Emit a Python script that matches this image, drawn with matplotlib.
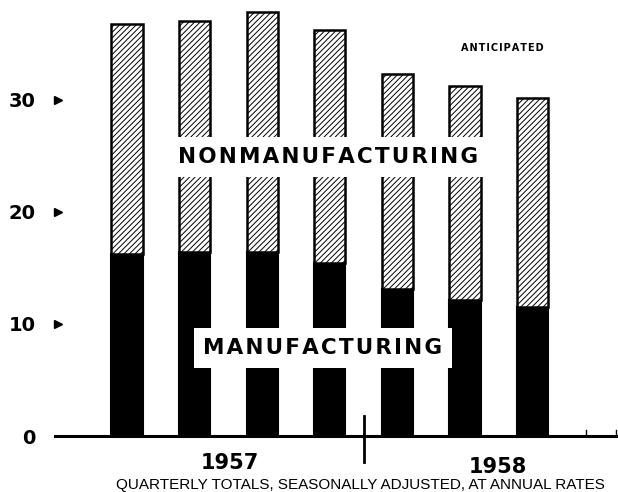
import matplotlib
matplotlib.use("Agg")
import matplotlib.pyplot as plt

quarters = ["1957 I", "1957 II", "1957 III", "1957 IV", "1958 I", "1958 II", "1958 III"]
total = [36.8, 37.0, 37.8, 36.2, 32.3, 31.2, 30.2]
manufacturing = [16.2, 16.4, 16.4, 15.4, 13.1, 12.1, 11.5]
nonmanufacturing = [t - m for t, m in zip(total, manufacturing)]
yticks = [0, 10, 20, 30]

plt.rcParams['hatch.linewidth'] = 0.7
plt.rcParams['font.family'] = ['DejaVu Sans']

fig = plt.figure(figsize=(6.18, 4.92), dpi=100)
ax = fig.add_axes([55 / 618, 56 / 492, 563 / 618, 436 / 492])

x = list(range(len(quarters)))
ax.bar(x, manufacturing, width=0.46, color='black', edgecolor='black', linewidth=1.5)
ax.bar(x, nonmanufacturing, width=0.46, bottom=manufacturing, color='white',
       edgecolor='black', hatch='//////', linewidth=1.8)

ax.set_xlim(-1.065, 7.263)
ax.set_ylim(0, 38.9)

for s in ['top', 'right', 'left']:
    ax.spines[s].set_visible(False)
ax.spines['bottom'].set_linewidth(2.2)
ax.set_xticks([])
ax.set_yticks(yticks)
ax.set_yticklabels([str(v) for v in yticks], fontsize=14, fontweight='bold')
ax.tick_params(axis='y', length=0, pad=14)

# little arrow heads at the tick marks
ax.plot([0.006] * 3, yticks[1:], linestyle='none', marker='>', markersize=6,
        color='black', transform=ax.get_yaxis_transform(), clip_on=False)

# divider between years and small ticks at the right
ax.plot([3.5, 3.5], [1.8, -2.3], color='black', linewidth=2, clip_on=False)
ax.plot([6.79, 6.79], [0, 0.5], color='black', linewidth=1)
ax.plot([7.23, 7.23], [0, 0.5], color='black', linewidth=1)

sp = '\u200a'
ax.text(2.97, 24.9, sp.join("NONMANUFACTURING"), fontsize=15.5, fontweight='bold',
        ha='center', va='center', zorder=5,
        bbox=dict(boxstyle='square,pad=0.45', facecolor='white', edgecolor='none'))
ax.text(2.9, 7.86, sp.join("MANUFACTURING"), fontsize=15.5, fontweight='bold',
        ha='center', va='center', zorder=5,
        bbox=dict(boxstyle='square,pad=0.45', facecolor='white', edgecolor='none'))
ax.text(5.55, 34.6, sp.join("ANTICIPATED"), fontsize=7, fontweight='bold',
        ha='center', va='center')

ax.text(1.52, -2.4, "1957", fontsize=15, fontweight='bold', ha='center', va='center',
        clip_on=False)
ax.text(5.49, -2.8, "1958", fontsize=15, fontweight='bold', ha='center', va='center',
        clip_on=False)
ax.text(3.45, -4.97, "QUARTERLY TOTALS, SEASONALLY ADJUSTED, AT ANNUAL RATES",
        fontsize=11, family='Liberation Sans', ha='center', va='bottom', clip_on=False)

fig.savefig('out.png', dpi=100)
